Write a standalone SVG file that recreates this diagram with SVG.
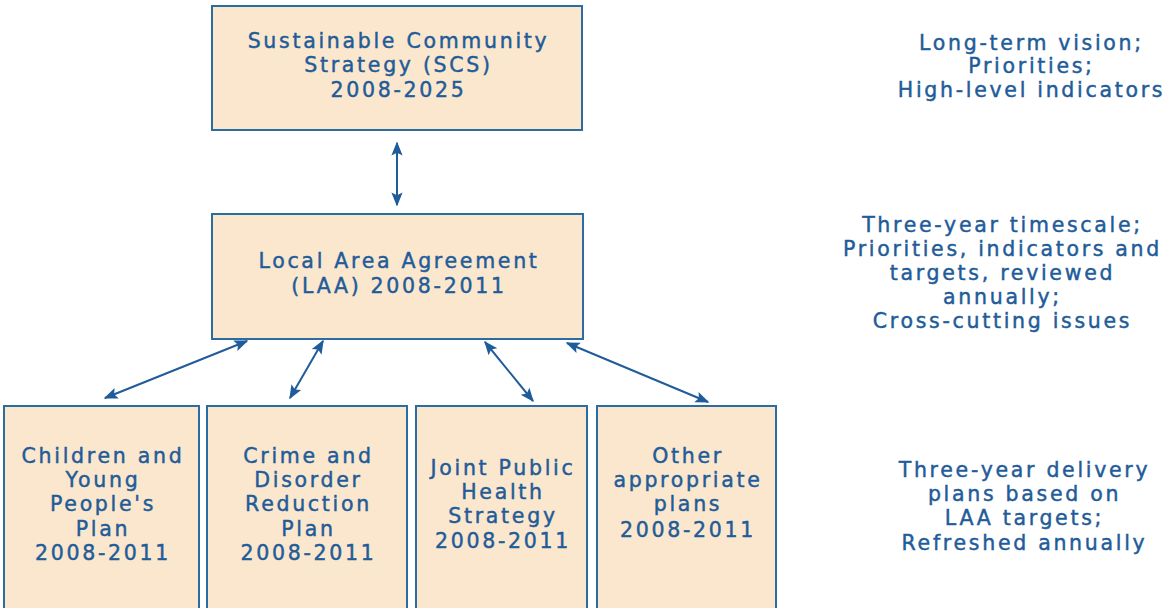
<svg xmlns="http://www.w3.org/2000/svg" width="1165" height="608" viewBox="0 0 1165 608">
<style>
.box{fill:#fbe7cd;stroke:#2b6ca3;stroke-width:2}
.t{font-family:"DejaVu Sans","Noto Sans",sans-serif;font-size:20.5px;letter-spacing:2.7px;fill:#1f5c99;stroke:#1f5c99;stroke-width:0.45;text-anchor:middle}
.c{stroke:#1f5c99;stroke-width:2;fill:none;marker-start:url(#a);marker-end:url(#a)}
</style>
<defs>
<marker id="a" viewBox="0 0 10 10" refX="9" refY="5" markerWidth="8" markerHeight="7" orient="auto-start-reverse" markerUnits="strokeWidth"><path d="M0,1 L10,5 L0,9 L2,5 Z" fill="#1f5c99"/></marker>
</defs>
<g id="connectors">
<line class="c" x1="397" y1="143" x2="397" y2="205"/>
<line class="c" x1="247" y1="341" x2="105" y2="398"/>
<line class="c" x1="323" y1="341" x2="290" y2="398"/>
<line class="c" x1="485" y1="342" x2="533" y2="401"/>
<line class="c" x1="567" y1="343" x2="708" y2="402"/>
</g>
<g id="scs">
<rect class="box" x="212" y="6" width="370" height="124"/>
<text class="t" x="398.5" y="48">Sustainable Community</text>
<text class="t" x="398.5" y="72">Strategy (SCS)</text>
<text class="t" x="398.5" y="97">2008-2025</text>
</g>
<g id="laa">
<rect class="box" x="212" y="214" width="371" height="125"/>
<text class="t" x="399" y="268">Local Area Agreement</text>
<text class="t" x="399" y="293">(LAA) 2008-2011</text>
</g>
<g id="cyp">
<rect class="box" x="4" y="406" width="195" height="210"/>
<text class="t" x="103" y="463">Children and</text>
<text class="t" x="103" y="487">Young</text>
<text class="t" x="103" y="511">People's</text>
<text class="t" x="103" y="536">Plan</text>
<text class="t" x="103" y="560">2008-2011</text>
</g>
<g id="crime">
<rect class="box" x="207" y="406" width="200" height="210"/>
<text class="t" x="308.5" y="463">Crime and</text>
<text class="t" x="308.5" y="487">Disorder</text>
<text class="t" x="308.5" y="511">Reduction</text>
<text class="t" x="308.5" y="536">Plan</text>
<text class="t" x="308.5" y="560">2008-2011</text>
</g>
<g id="health">
<rect class="box" x="416" y="406" width="171" height="210"/>
<text class="t" x="503" y="475">Joint Public</text>
<text class="t" x="503" y="499">Health</text>
<text class="t" x="503" y="523">Strategy</text>
<text class="t" x="503" y="548">2008-2011</text>
</g>
<g id="other">
<rect class="box" x="597" y="406" width="179" height="210"/>
<text class="t" x="688" y="463">Other</text>
<text class="t" x="688" y="487">appropriate</text>
<text class="t" x="688" y="511">plans</text>
<text class="t" x="688" y="537">2008-2011</text>
</g>
<g id="note-scs">
<text class="t" x="1031.5" y="50">Long-term vision;</text>
<text class="t" x="1031.5" y="73">Priorities;</text>
<text class="t" x="1031.5" y="97">High-level indicators</text>
</g>
<g id="note-laa">
<text class="t" x="1002.5" y="232">Three-year timescale;</text>
<text class="t" x="1002.5" y="256">Priorities, indicators and</text>
<text class="t" x="1002.5" y="280">targets, reviewed</text>
<text class="t" x="1002.5" y="304">annually;</text>
<text class="t" x="1002.5" y="328">Cross-cutting issues</text>
</g>
<g id="note-plans">
<text class="t" x="1024.5" y="477">Three-year delivery</text>
<text class="t" x="1024.5" y="501">plans based on</text>
<text class="t" x="1024.5" y="525">LAA targets;</text>
<text class="t" x="1024.5" y="550">Refreshed annually</text>
</g>
</svg>
